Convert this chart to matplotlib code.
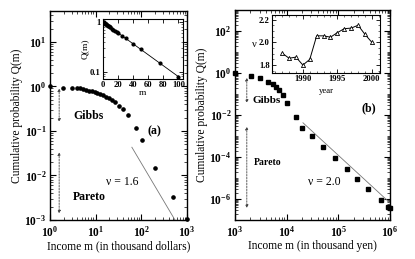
import matplotlib
matplotlib.use('Agg')
import matplotlib.pyplot as plt
import matplotlib.ticker as mticker
import numpy as np

plt.rcParams['font.family'] = ['Liberation Serif', 'DejaVu Serif']
plt.rcParams['font.weight'] = 'bold'
plt.rcParams['mathtext.fontset'] = 'custom'
plt.rcParams['mathtext.rm'] = 'Liberation Serif:bold'
plt.rcParams['mathtext.it'] = 'Liberation Serif:italic:bold'
plt.rcParams['mathtext.bf'] = 'Liberation Serif:bold'

# (a) USA income data, thousand dollars
usa_m = [1.0, 1.9, 2.98, 3.84, 4.5, 5.35, 6.3, 7.2, 8.4, 9.6, 11.0, 12.6, 14.7,
         16.8, 19.6, 22.7, 26.8, 32.9, 40.3, 51.7, 76.0, 101, 198, 490, 1000]
usa_Q = [1.0, 0.93, 0.93, 0.90, 0.90, 0.87, 0.84, 0.81, 0.78, 0.76, 0.72, 0.68, 0.63,
         0.59, 0.55, 0.50, 0.44, 0.37, 0.31, 0.23, 0.115, 0.062, 0.0145, 0.0032, 0.00105]
usa_fit_m = [62, 540]
usa_fit_Q = [0.043, 0.001]

# inset (a): linear-log
ins_m = [0, 1, 2, 3, 4, 5, 6, 7, 8, 9, 10, 12, 14, 16, 18, 20, 25, 30, 40, 50, 75, 100]
ins_Q = [1.0, 0.975, 0.951, 0.927, 0.904, 0.881, 0.859, 0.837, 0.816, 0.796, 0.776,
         0.737, 0.701, 0.666, 0.633, 0.602, 0.531, 0.467, 0.362, 0.281, 0.149, 0.079]
ins_fit_m = [0, 100]
ins_fit_Q = [1.0, 0.079]

# (b) Japan income data, thousand yen
jp_m = [1.0e3, 2.04e3, 3.0e3, 4.3e3, 5.4e3, 6.2e3, 7.1e3, 8.5e3, 10.2e3, 15e3, 19.8e3,
        30.6e3, 50e3, 86e3, 147e3, 230e3, 375e3, 665e3, 905e3, 1.0e6]
jp_Q = [1.0, 0.72, 0.58, 0.37, 0.30, 0.22, 0.155, 0.09, 0.037, 0.008, 0.0024,
        1.0e-3, 3.0e-4, 9.0e-5, 2.7e-5, 9.0e-6, 3.0e-6, 9.0e-7, 4.0e-7, 3.6e-7]
jp_fit_m = [20.7e3, 1.0e6]
jp_fit_Q = [4.2e-3, 6.4e-7]

# inset (b): Pareto exponent per year
years = [1987, 1988, 1989, 1990, 1991, 1992, 1993, 1994, 1995, 1996, 1997, 1998, 1999, 2000]
nu = [1.905, 1.86, 1.87, 1.80, 1.85, 2.057, 2.057, 2.045, 2.085, 2.12, 2.125, 2.15, 2.07, 2.00]

fig = plt.figure(figsize=(4.15, 2.59), dpi=100)


def style_main(ax):
    ax.set_xscale('log')
    ax.set_yscale('log')
    ax.tick_params(which='both', direction='in', top=True, right=True, labelsize=8.3)
    ax.tick_params(axis='x', pad=4)
    ax.tick_params(axis='y', pad=2.5)
    ax.tick_params(which='major', length=4, width=0.8)
    ax.tick_params(which='minor', length=2, width=0.5)
    ax.xaxis.set_minor_locator(mticker.LogLocator(subs=np.arange(2, 10), numticks=20))
    ax.xaxis.set_minor_formatter(mticker.NullFormatter())
    for s in ax.spines.values():
        s.set_linewidth(1.0)


def style_inset(ax):
    ax.tick_params(which='both', direction='in', top=True, right=True, labelsize=6.2, pad=1.5)
    ax.tick_params(which='major', length=3, width=0.6)
    ax.tick_params(which='minor', length=1.5, width=0.4)
    for s in ax.spines.values():
        s.set_linewidth(0.8)


arrow = dict(arrowstyle='<|-|>', linestyle=(0, (2, 1.5)), lw=0.6, color='#444444',
             mutation_scale=4, shrinkA=0, shrinkB=0)

# ---------------- panel (a)
ax1 = fig.add_axes([0.120, 0.151, 0.331, 0.807])
style_main(ax1)
ax1.plot(usa_m, usa_Q, 'o', color='black', markersize=2.3, clip_on=False, zorder=5)
ax1.plot(usa_fit_m, usa_fit_Q, color='#777777', linewidth=0.6)
ax1.set_xlim(1, 1000)
ax1.set_ylim(1e-3, 50)
ax1.yaxis.set_major_locator(mticker.LogLocator(numticks=10))
ax1.yaxis.set_minor_locator(mticker.LogLocator(subs=np.arange(2, 10), numticks=20))
ax1.yaxis.set_minor_formatter(mticker.NullFormatter())
ax1.set_xlabel('Income m (in thousand dollars)', fontsize=8.3, labelpad=0)
ax1.set_ylabel('Cumulative probability Q(m)', fontsize=8.3, labelpad=1)
ax1.annotate('', xy=(1.6, 0.16), xytext=(1.6, 0.9), arrowprops=arrow)
ax1.annotate('', xy=(1.6, 0.0014), xytext=(1.6, 0.033), arrowprops=arrow)
ax1.text(3.2, 0.22, 'Gibbs', fontsize=8.5, va='center')
ax1.text(3.2, 0.0033, 'Pareto', fontsize=8.5, va='center')
ax1.text(135, 0.1, '(a)', fontsize=8.5, va='center')
ax1.text(17, 0.007, 'ν = 1.6', fontsize=8.5, fontweight='normal', va='center')

ins1 = fig.add_axes([0.248, 0.695, 0.193, 0.232])
style_inset(ins1)
ins1.set_yscale('log')
ins1.plot(ins_m, ins_Q, 'o', color='black', markersize=2.0)
ins1.plot(ins_fit_m, ins_fit_Q, color='black', linewidth=0.6)
ins1.set_xlim(0, 106)
ins1.set_ylim(0.071, 1.15)
ins1.set_xticks([0, 20, 40, 60, 80, 100])
ins1.yaxis.set_major_locator(mticker.FixedLocator([0.1, 1]))
ins1.yaxis.set_major_formatter(mticker.FixedFormatter(['0.1', '1']))
ins1.yaxis.set_minor_locator(mticker.LogLocator(subs=np.arange(2, 10), numticks=20))
ins1.yaxis.set_minor_formatter(mticker.NullFormatter())
ins1.set_xlabel('m', fontsize=6.8, labelpad=0)
ins1.set_ylabel('Q(m)', fontsize=6.8, labelpad=1)

# ---------------- panel (b)
ax2 = fig.add_axes([0.566, 0.151, 0.374, 0.811])
style_main(ax2)
ax2.plot(jp_m, jp_Q, 's', color='black', markersize=2.5, clip_on=False, zorder=5)
ax2.plot(jp_fit_m, jp_fit_Q, color='#777777', linewidth=0.6)
ax2.set_xlim(1e3, 1e6)
ax2.set_ylim(1e-7, 1e3)
ax2.yaxis.set_major_locator(mticker.FixedLocator([1e-6, 1e-4, 1e-2, 1e0, 1e2]))
ax2.yaxis.set_major_formatter(mticker.LogFormatterMathtext())
ax2.yaxis.set_minor_locator(mticker.LogLocator(subs=np.arange(1, 10), numticks=30))
ax2.yaxis.set_minor_formatter(mticker.NullFormatter())
ax2.set_xlabel('Income m (in thousand yen)', fontsize=8.3, labelpad=0)
ax2.set_ylabel('Cumulative probability Q(m)', fontsize=8.3, labelpad=1)
ax2.annotate('', xy=(1.7e3, 0.037), xytext=(1.7e3, 0.58), arrowprops=arrow)
ax2.annotate('', xy=(1.7e3, 3.7e-7), xytext=(1.7e3, 2.7e-3), arrowprops=arrow)
ax2.text(2.15e3, 0.05, 'Gibbs', fontsize=8, va='center')
ax2.text(2.33e3, 5.2e-5, 'Pareto', fontsize=7, va='center')
ax2.text(2.85e5, 0.021, '(b)', fontsize=8.5, va='center')
ax2.text(2.6e4, 6.3e-6, 'ν = 2.0', fontsize=8.5, fontweight='normal', va='center')

ins2 = fig.add_axes([0.655, 0.718, 0.261, 0.224])
style_inset(ins2)
ins2.plot(years, nu, '-^', color='black', markersize=3, linewidth=0.7,
          markerfacecolor='white', markeredgewidth=0.6)
ins2.set_xlim(1985.5, 2001.2)
ins2.set_ylim(1.73, 2.24)
ins2.set_xticks([1990, 1995, 2000])
ins2.xaxis.set_minor_locator(mticker.MultipleLocator(1))
ins2.set_yticks([1.8, 2.0, 2.2])
ins2.yaxis.set_minor_locator(mticker.MultipleLocator(0.05))
ins2.set_xlabel('year', fontsize=6.2, labelpad=3)
ins2.set_ylabel('ν', fontsize=7.5, fontweight='normal', rotation=0, labelpad=3, va='center')

fig.savefig('out.png', dpi=100)
